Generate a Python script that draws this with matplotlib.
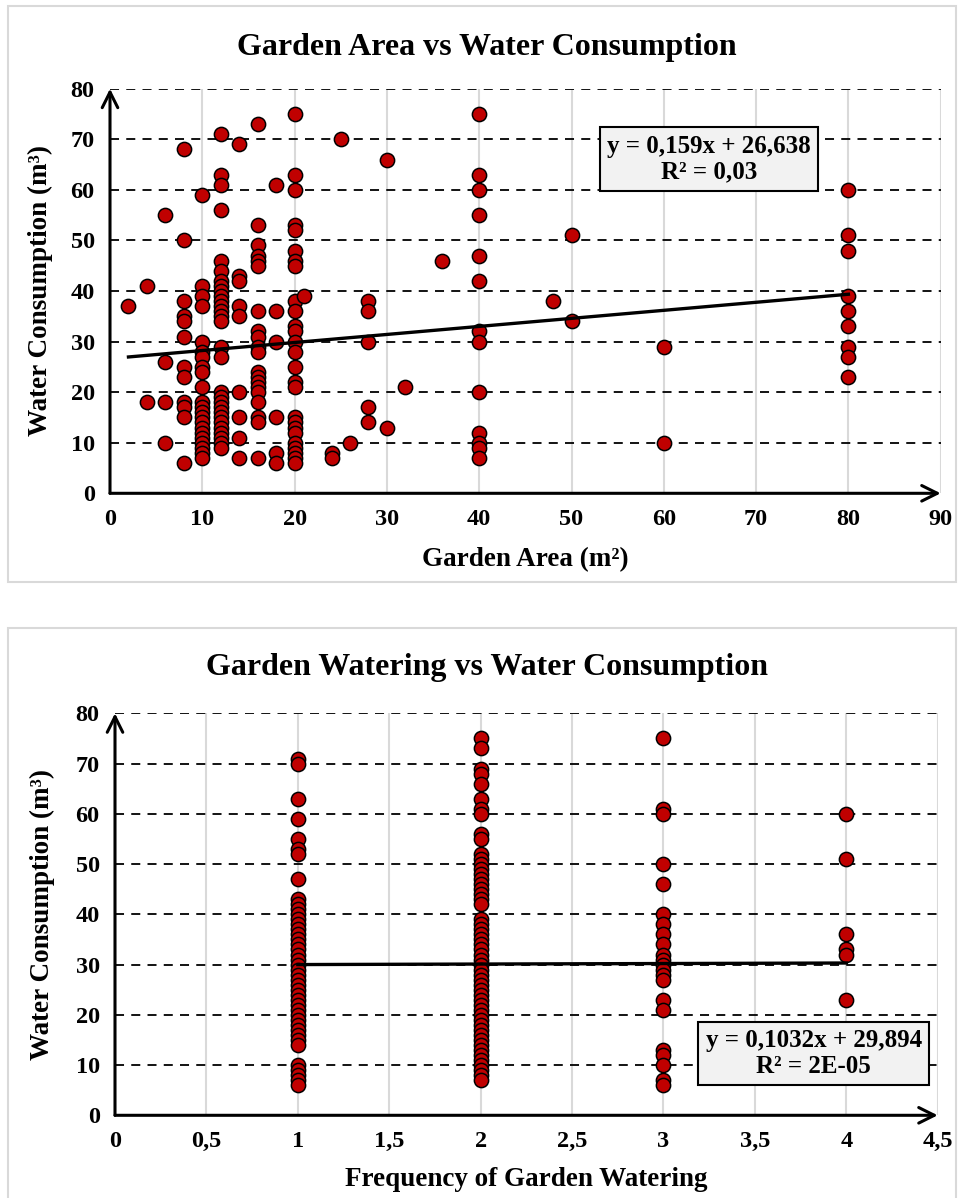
import matplotlib
matplotlib.use("Agg")
import matplotlib.pyplot as plt
from matplotlib.patches import Rectangle
import numpy as np

plt.rcParams['font.family'] = ['Liberation Serif', 'DejaVu Serif']
plt.rcParams['font.weight'] = 'bold'

# ---------------- Data: Garden Area vs Water Consumption ----------------
area_x = ([2] + [4]*2 + [6]*4 + [8]*12 + [10]*22 + [12]*29 + [14]*9 + [16]*20 + [18]*6
          + [20]*26 + [21] + [24]*2 + [25] + [26] + [28]*5 + [30]*2 + [32] + [36]
          + [40]*13 + [48] + [50]*2 + [60]*2 + [80]*9)
area_y = ([37]
          + [41, 18]
          + [55, 26, 18, 10]
          + [68, 50, 38, 35, 34, 31, 25, 23, 18, 17, 15, 6]
          + [59, 41, 39, 37, 30, 28, 27, 25, 24, 21, 18, 17, 16, 15, 14, 13, 12, 11, 10, 9, 8, 7]
          + [71, 63, 61, 56, 46, 44, 42, 41, 40, 39, 38, 37, 36, 35, 34, 29, 27, 20, 19, 18, 17,
             16, 15, 14, 13, 12, 11, 10, 9]
          + [69, 43, 42, 37, 35, 20, 15, 11, 7]
          + [73, 53, 49, 47, 46, 45, 36, 32, 31, 29, 28, 24, 23, 22, 21, 20, 18, 15, 14, 7]
          + [61, 36, 30, 15, 8, 6]
          + [75, 63, 60, 53, 52, 48, 46, 45, 38, 36, 33, 32, 30, 28, 25, 22, 21, 15, 14, 13, 12,
             10, 9, 8, 7, 6]
          + [39]
          + [8, 7]
          + [70]
          + [10]
          + [38, 36, 30, 17, 14]
          + [66, 13]
          + [21]
          + [46]
          + [75, 63, 60, 55, 47, 42, 32, 30, 20, 12, 10, 9, 7]
          + [38]
          + [51, 34]
          + [29, 10]
          + [60, 51, 48, 39, 36, 33, 29, 27, 23])
area_slope, area_icept = 0.159, 26.638
area_eq = "y = 0,159x + 26,638\nR² = 0,03"
area_xticks = [0, 10, 20, 30, 40, 50, 60, 70, 80, 90]

# ---------------- Data: Garden Watering vs Water Consumption ----------------
water_y1 = [71, 70, 63, 59, 55, 53, 52, 47, 43, 42, 41, 40, 39, 38, 37, 36, 35, 34, 33, 32, 31,
            30, 29, 28, 27, 26, 25, 24, 23, 22, 21, 20, 19, 18, 17, 16, 15, 14, 10, 9, 8, 7, 6]
water_y2 = [75, 73, 69, 68, 66, 63, 61, 60, 56, 55, 52, 51, 50, 49, 48, 47, 46, 45, 44, 43, 42,
            39, 38, 37, 36, 35, 34, 33, 32, 31, 30, 29, 28, 27, 26, 25, 24, 23, 22, 21, 20, 19,
            18, 17, 16, 15, 14, 13, 12, 11, 10, 9, 8, 7]
water_y3 = [75, 61, 60, 50, 46, 40, 38, 36, 34, 32, 31, 30, 29, 28, 27, 23, 21, 13, 12, 10, 7, 6]
water_y4 = [60, 51, 36, 33, 32, 23]
water_groups = [1, 2, 3, 4]
water_slope, water_icept = 0.1032, 29.894
water_eq = "y = 0,1032x + 29,894\nR² = 2E-05"
water_xticks = [0, 0.5, 1, 1.5, 2, 2.5, 3, 3.5, 4, 4.5]
water_xticklabels = ["0", "0,5", "1", "1,5", "2", "2,5", "3", "3,5", "4", "4,5"]

yticks = [0, 10, 20, 30, 40, 50, 60, 70, 80]

W, H = 958, 1198
fig = plt.figure(figsize=(W/100, H/100), dpi=100)

# panel borders
for (x0, y0, x1, y1) in [(8, 6, 956, 582), (8, 628, 956, 1250)]:
    fig.patches.append(Rectangle((x0/W, 1 - y1/H), (x1-x0)/W, (y1-y0)/H,
                                 transform=fig.transFigure, fill=False,
                                 edgecolor='#d9d9d9', lw=1.5))

RED = '#c00000'

def style_axes(ax, xmax, xticks, xticklabels):
    ax.set_ylim(0, 80)
    ax.set_xlim(0, xmax)
    ax.set_yticks(yticks)
    ax.set_yticklabels([str(v) for v in yticks])
    ax.set_xticks(xticks)
    ax.set_xticklabels(xticklabels)
    for s in ax.spines.values():
        s.set_visible(False)
    ax.tick_params(length=0, labelsize=17.5, pad=11)
    for lab in ax.get_xticklabels() + ax.get_yticklabels():
        lab.set_fontweight('bold')
    for t in xticks[1:]:
        ax.axvline(t, color='#d9d9d9', lw=1.5, zorder=0)
    for t in yticks[1:]:
        ax.axhline(t, color='black', lw=1.3, ls=(0, (5, 4)), zorder=0.5)
    ax.annotate('', xy=(0, 1), xytext=(0, 0), xycoords='axes fraction',
                arrowprops=dict(arrowstyle='->', lw=2.2, color='black',
                                mutation_scale=28, shrinkA=0, shrinkB=0), annotation_clip=False)
    ax.annotate('', xy=(1, 0), xytext=(0, 0), xycoords='axes fraction',
                arrowprops=dict(arrowstyle='->', lw=2.2, color='black',
                                mutation_scale=28, shrinkA=0, shrinkB=0), annotation_clip=False)

LABEL_FS = 19.5

# ---- Panel 1 ----
ax1 = fig.add_axes([110/W, 1 - 493.3/H, (940.7-110)/W, (493.3-88.7)/H])
style_axes(ax1, 90, area_xticks, [str(v) for v in area_xticks])
ax1.scatter(area_x, area_y, s=105, c=RED, edgecolors='black', linewidths=1.1, zorder=3, clip_on=False)
xl = np.array([min(area_x), max(area_x)])
ax1.plot(xl, area_slope*xl + area_icept, color='black', lw=2.4, zorder=4)
fig.text(525/W, 1 - 560/H, 'Garden Area (m²)', ha='center', va='center',
         fontsize=LABEL_FS, fontweight='bold')
fig.text(40/W, 1 - 291/H, 'Water Consumption (m³)', ha='center', va='center', rotation=90,
         fontsize=LABEL_FS, fontweight='bold')
fig.text(0.508, 1 - 47/H, 'Garden Area vs Water Consumption', ha='center', va='center',
         fontsize=23, fontweight='bold')
fig.text(709/W, 1 - 159/H, area_eq, ha='center', va='center', fontsize=18, fontweight='bold',
         linespacing=1.15,
         bbox=dict(boxstyle='square,pad=0.3', facecolor='#f2f2f2', edgecolor='black', lw=1.5))

# ---- Panel 2 ----
ax2 = fig.add_axes([115/W, 1 - 1115.3/H, (937.7-115)/W, (1115.3-713.3)/H])
style_axes(ax2, 4.5, water_xticks, water_xticklabels)
wx, wy = [], []
for g, ys in zip(water_groups, [water_y1, water_y2, water_y3, water_y4]):
    wx += [g]*len(ys)
    wy += ys
ax2.scatter(wx, wy, s=105, c=RED, edgecolors='black', linewidths=1.1, zorder=3, clip_on=False)
xl2 = np.array([min(wx), max(wx)])
ax2.plot(xl2, water_slope*xl2 + water_icept, color='black', lw=2.4, zorder=4)
fig.text(526/W, 1 - 1180/H, 'Frequency of Garden Watering', ha='center', va='center',
         fontsize=LABEL_FS, fontweight='bold')
fig.text(42/W, 1 - 914/H, 'Water Consumption (m³)', ha='center', va='center', rotation=90,
         fontsize=LABEL_FS, fontweight='bold')
fig.text(0.508, 1 - 668/H, 'Garden Watering vs Water Consumption', ha='center', va='center',
         fontsize=23, fontweight='bold')
fig.text(813.7/W, 1 - 1053.4/H, water_eq, ha='center', va='center', fontsize=18, fontweight='bold',
         linespacing=1.15,
         bbox=dict(boxstyle='square,pad=0.3', facecolor='#f2f2f2', edgecolor='black', lw=1.5))

fig.savefig('out.png', dpi=100, facecolor='white')
